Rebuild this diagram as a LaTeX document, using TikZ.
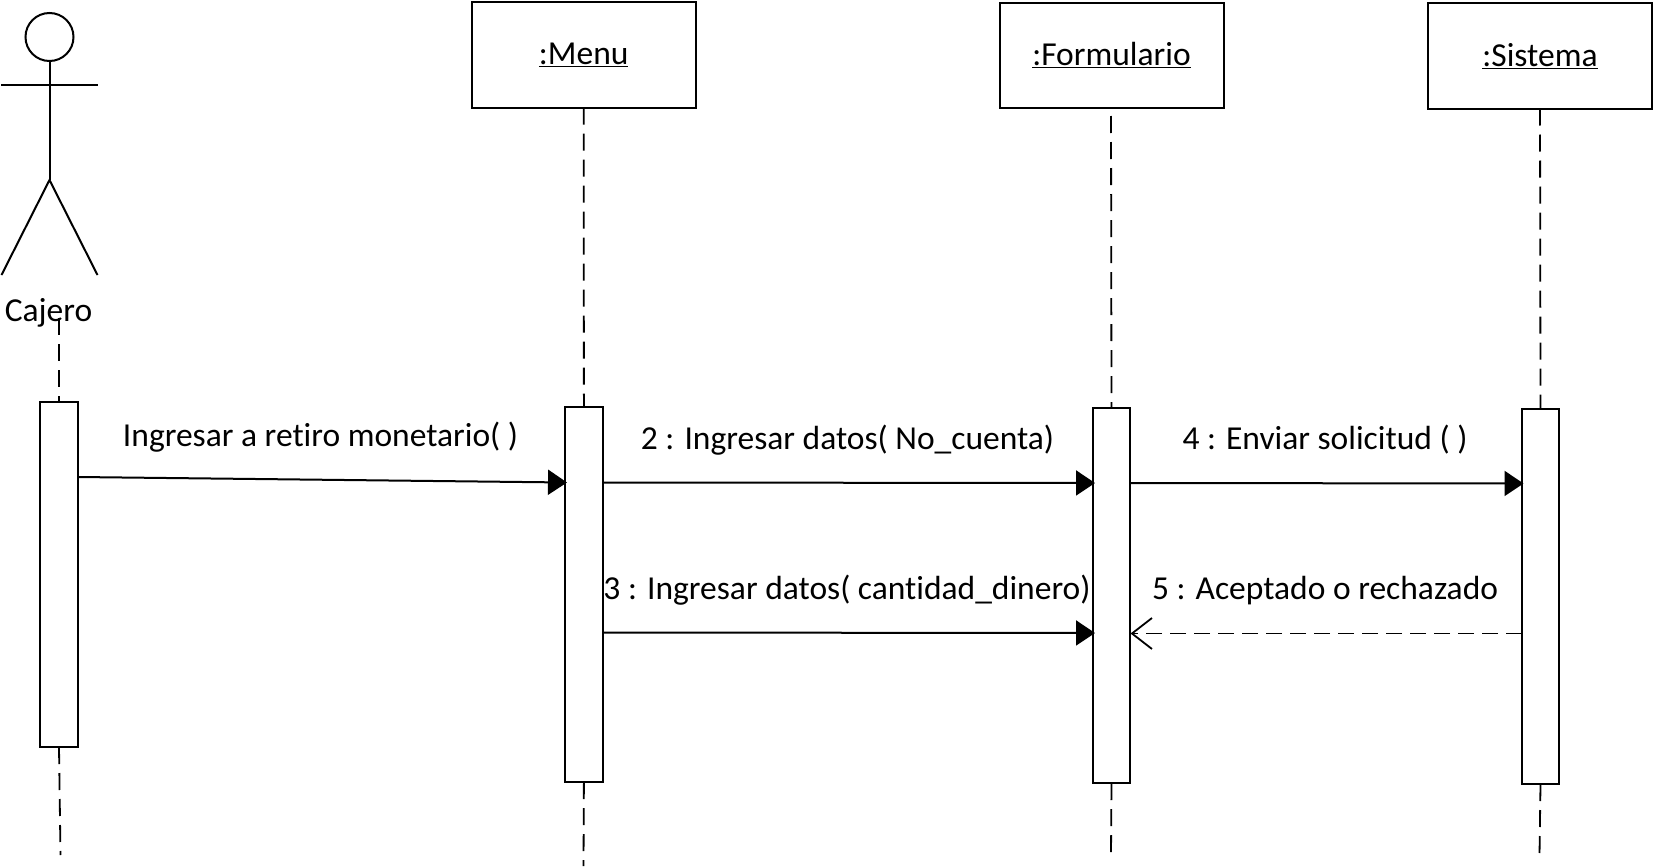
\documentclass[tikz,border=0pt]{standalone}
\usepackage{fontspec}
\setmainfont[Ligatures=NoCommon]{Carlito}
\usetikzlibrary{arrows.meta}
\tikzset{
  objbox/.style={draw=black,line width=2pt,fill=white,inner sep=0pt,outer sep=0pt,minimum width=224pt,minimum height=105pt,font=\fontsize{33.5}{40}\selectfont},
  actbox/.style={draw=black,line width=2pt,fill=white,inner sep=0pt,outer sep=0pt,minimum width=37.5pt},
  lifeline/.style={line width=1.8pt,dash pattern=on 17pt off 9pt},
  msg/.style={line width=2pt,-{Triangle[length=19pt,width=25pt]}},
  retmsg/.style={line width=1.8pt,dash pattern=on 16pt off 8pt,-{Straight Barb[length=20pt,width=31pt,line width=1.8pt]}},
  stick/.style={line width=2pt},
  lbl/.style={inner sep=0pt,anchor=base,font=\fontsize{33.5}{40}\selectfont}
}
\begin{document}
\begin{tikzpicture}[x=1pt,y=-1pt]
\useasboundingbox (0,0) rectangle (1654,867);
% actor
\node[stick,draw=black,circle,minimum size=48pt,inner sep=0pt,outer sep=0pt] (head) at (49.5,37) {};
\coordinate (hip) at (49.5,180);
\coordinate (armL) at (1,84.5);
\coordinate (armR) at (98,84.5);
\coordinate (footL) at (1.5,275);
\coordinate (footR) at (97.5,275);
\draw[stick] (head.south) -- (hip);
\draw[stick] (armL) -- (armR);
\draw[stick] (footL) -- (hip) -- (footR);
\node[lbl] (cajero) at (48.5,321) {Cajero};
% objects
\node[objbox,yshift=-0.5pt] (menu) at (583.7,54.5) {\underline{:Menu}};
\node[objbox,yshift=-0.5pt] (form) at (1111.5,55) {\underline{:Formulario}};
\node[objbox,yshift=-0.5pt] (sist) at (1540,55.5) {\underline{:Sistema}};
% lifeline ends
\coordinate (cajTop) at (59,318);
\coordinate (cajEnd) at (60.5,855);
\coordinate (menEnd) at (583.5,866);
\coordinate (forTop) at (1111,116);
\coordinate (forEnd) at (1111,855);
\coordinate (sisEnd) at (1539.5,855);
% activations
\node[actbox,minimum height=345pt,minimum width=38pt] (aCaj) at (59,574.5) {};
\node[actbox,minimum height=375pt] (aMen) at (583.9,594.5) {};
\node[actbox,minimum height=375pt] (aFor) at (1111.5,595.5) {};
\node[actbox,minimum height=375pt] (aSis) at (1540.5,596.5) {};
% lifelines
\draw[lifeline] (cajTop) -- (aCaj.north);
\draw[lifeline] (aCaj.south) -- (cajEnd);
\draw[lifeline] (menu.south) -- (aMen.north);
\draw[lifeline] (aMen.south) -- (menEnd);
\draw[lifeline] (forTop) -- (aFor.north);
\draw[lifeline] (aFor.south) -- (forEnd);
\draw[lifeline] (sist.south) -- (aSis.north);
\draw[lifeline] (aSis.south) -- (sisEnd);
% message points
\coordinate (m1a) at (78,477);
\coordinate (m1b) at (567,482.5);
\coordinate (m2a) at (602.7,482.5);
\coordinate (m2b) at (1095,483);
\coordinate (m3a) at (602.7,632.5);
\coordinate (m3b) at (1095,633);
\coordinate (m4a) at (1130.5,483);
\coordinate (m4b) at (1523.5,483.5);
\coordinate (m5a) at (1522,633.5);
\coordinate (m5b) at (1130.5,633.5);
\draw[msg] (m1a) -- (m1b);
\draw[msg] (m2a) -- (m2b);
\draw[msg] (m3a) -- (m3b);
\draw[msg] (m4a) -- (m4b);
\draw[retmsg] (m5a) -- (m5b);
% labels
\node[lbl] (l1) at (320.5,446) {Ingresar a retiro monetario( )};
\node[lbl] (l2) at (847.5,449.5) {2 : Ingresar datos( No\_cuenta)};
\node[lbl] (l3) at (847,599) {3 : Ingresar datos( cantidad\_dinero)};
\node[lbl] (l4) at (1325,449.5) {4 : Enviar solicitud ( )};
\node[lbl] (l5) at (1325,599) {5 : Aceptado o rechazado};
\end{tikzpicture}
\end{document}
